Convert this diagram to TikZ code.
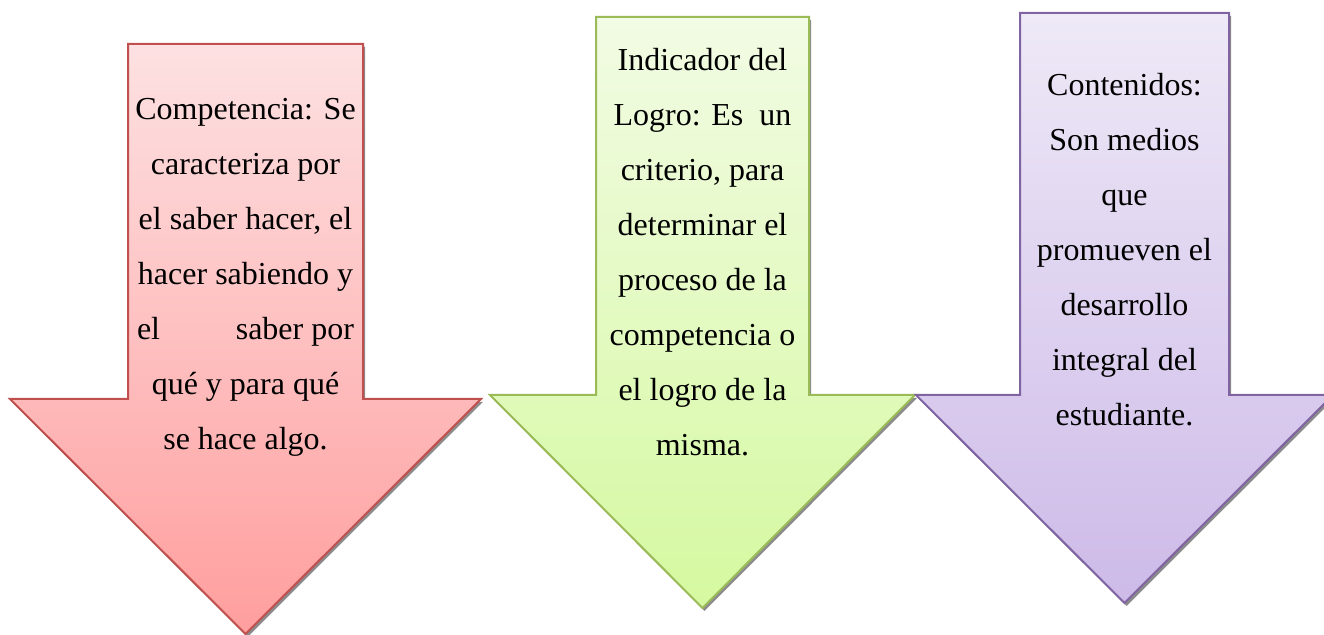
\documentclass[tikz,border=0pt]{standalone}
\usepackage{fontspec}
\setmainfont{Liberation Serif}
\definecolor{redline}{HTML}{C0504D}
\definecolor{redtop}{HTML}{FDE1E2}
\definecolor{redbottom}{HTML}{FF9E9E}
\definecolor{greenline}{HTML}{9BBB59}
\definecolor{greentop}{HTML}{F2FBE4}
\definecolor{greenbottom}{HTML}{D5F9A0}
\definecolor{purpleline}{HTML}{8064A2}
\definecolor{purpletop}{HTML}{EEE9F7}
\definecolor{purplebottom}{HTML}{CDBAE8}

\begin{document}
\begin{tikzpicture}[x=0.5pt, y=-0.5pt,
    arrowbox/.style={line width=1pt, line join=miter},
    shadowbox/.style={fill=black!45, draw=none},
    arrowtext/.style={align=flush center, anchor=north, inner sep=0pt,
      font=\fontsize{16}{27.5}\selectfont}]
    \useasboundingbox (0,0) rectangle (1324,635);

    % Shadows
    \fill[shadowbox, shift={(2,3)}] (128,44) -- (363,44) -- (363,399) -- (481,399)
      -- (245.5,634) -- (10,399) -- (128,399) -- cycle;
    \fill[shadowbox, shift={(2,3)}] (596,17) -- (809,17) -- (809,395) -- (915,395)
      -- (702.5,608) -- (490,395) -- (596,395) -- cycle;
    \fill[shadowbox, shift={(2,3)}] (1020,13) -- (1229,13) -- (1229,395) -- (1333,395)
      -- (1124.5,603) -- (916,395) -- (1020,395) -- cycle;

    % Arrows
    \draw[arrowbox, draw=redline, top color=redtop, bottom color=redbottom]
      (128,44) -- (363,44) -- (363,399) -- (481,399) -- (245.5,634)
      -- (10,399) -- (128,399) -- cycle;
    \draw[arrowbox, draw=greenline, top color=greentop, bottom color=greenbottom]
      (596,17) -- (809,17) -- (809,395) -- (915,395) -- (702.5,608)
      -- (490,395) -- (596,395) -- cycle;
    \draw[arrowbox, draw=purpleline, top color=purpletop, bottom color=purplebottom]
      (1020,13) -- (1229,13) -- (1229,395) -- (1333,395) -- (1124.5,603)
      -- (916,395) -- (1020,395) -- cycle;

    % Texts
    \node[arrowtext, text width=116pt] (competencia) at (245.5,98)
      {Competencia: Se\\ caracteriza por\\ el saber hacer, el\\ hacer sabiendo y\\
       \makebox[108.5pt]{el\hfill saber por}\\ qué y para qué\\ se hace algo.};
    \node[arrowtext, text width=104pt] (indicador) at (702.5,48)
      {Indicador del\\ Logro: Es~ un\\ criterio, para\\ determinar el\\
       proceso de la\\ competencia o\\ el logro de la\\ misma.};
    \node[arrowtext, text width=100pt] (contenidos) at (1124.5,73)
      {Contenidos:\\ Son medios\\ que\\ promueven el\\ desarrollo\\
       integral del\\ estudiante.};
\end{tikzpicture}
\end{document}
